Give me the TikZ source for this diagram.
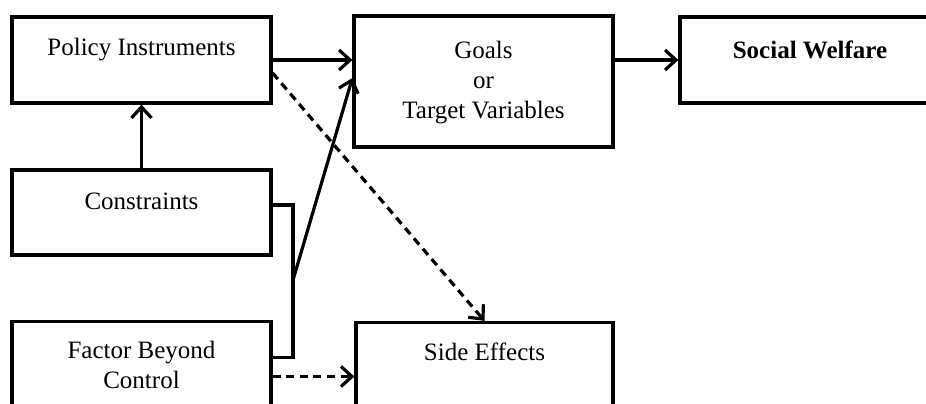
\documentclass[tikz,border=0pt]{standalone}
\usepackage{fontspec}
\setmainfont{Liberation Serif}
\usetikzlibrary{arrows.meta}
\begin{document}
\begin{tikzpicture}[x=0.5pt,y=-0.5pt,
  box/.style={draw, line width=1.6pt, rectangle, inner sep=0pt},
  lbl/.style={font=\fontsize{12.5}{15}\selectfont, align=center, inner sep=0pt},
  conn/.style={line width=1.6pt},
  arr/.style={line width=1.6pt, -{Straight Barb[length=5.5pt,width=10pt]}},
  darr/.style={arr, dash pattern=on 4pt off 2.8pt}]
\clip (0,0) rectangle (926,403);
\fill[white] (0,0) rectangle (926,403);
% boxes
\node[box, minimum width=129.5pt, minimum height=43pt] (pol) at (141.5,60) {};
\node[box, minimum width=129.5pt, minimum height=42.5pt] (con) at (141.5,212.5) {};
\node[box, minimum width=129.5pt, minimum height=59pt] (fac) at (141.5,380.5) {};
\node[box, minimum width=129.5pt, minimum height=65.5pt] (goals) at (483.5,81.5) {};
\node[box, minimum width=130pt, minimum height=43pt] (soc) at (810,60) {};
\node[box, minimum width=128.5pt, minimum height=59pt] (side) at (484.5,381.5) {};
% labels
\node[lbl] (tpol) at (141.5,50) {Policy Instruments};
\node[lbl] (tcon) at (141.5,201) {Constraints};
\node[lbl] (tfac) at (141.5,365) {Factor Beyond\\Control};
\node[lbl] (tgoals) at (483.5,83) {Goals\\or\\Target Variables};
\node[lbl, font=\fontsize{12.5}{15}\selectfont\bfseries] (tsoc) at (810,50) {Social Welfare};
\node[lbl] (tside) at (484.5,352) {Side Effects};
% connectors
\coordinate (j) at (293,280);
\coordinate (fd) at ([yshift=2pt]fac.east);
\draw[arr] (pol.east) -- (goals.west |- pol.east);
\draw[arr] (goals.east |- soc.west) -- (soc.west);
\draw[arr] (con.north) -- (pol.south);
\draw[conn] ([yshift=3.75pt]con.east) -| (j) |- ([yshift=11.5pt]fac.east);
\draw[arr] (j) -- ([yshift=1.75pt]goals.west);
\draw[darr] ([yshift=-6.5pt]pol.east) -- (side.north);
\draw[darr] (fd) -- (side.west |- fd);
\end{tikzpicture}
\end{document}
